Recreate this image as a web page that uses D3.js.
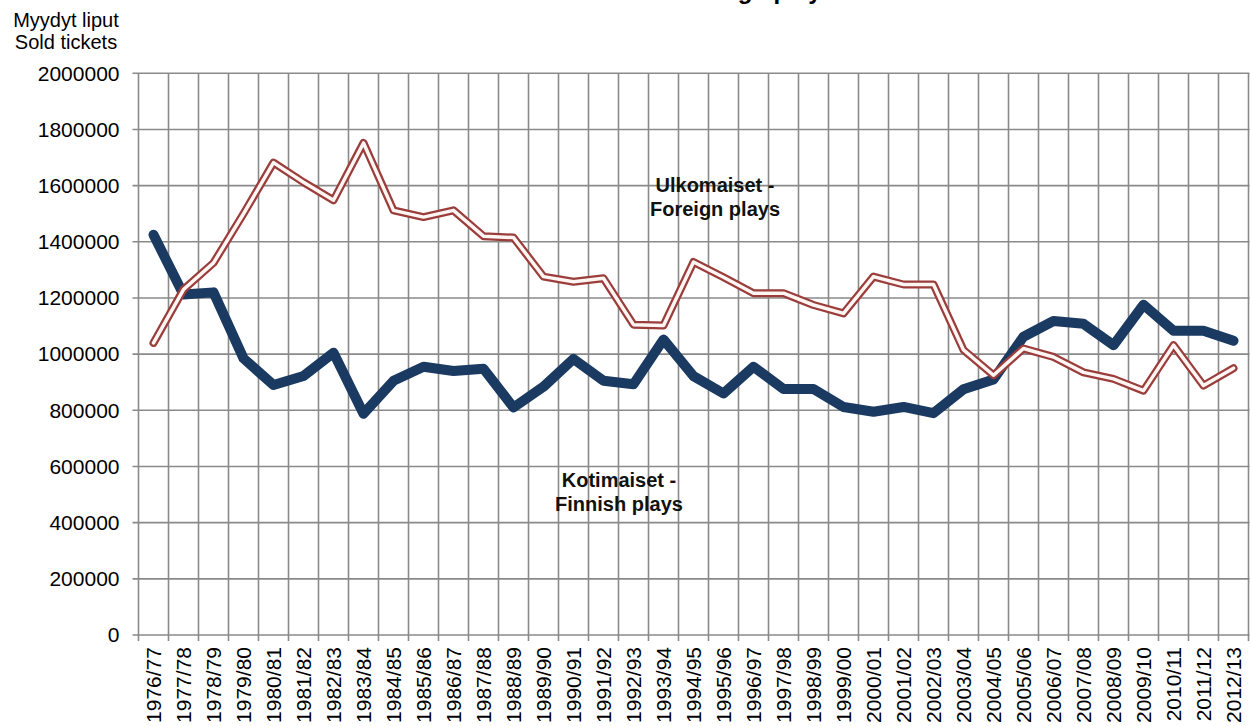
<!DOCTYPE html>
<head>
<meta charset="utf-8">
<style>
	body{
		margin: 0;
		background: white;
	}
	svg{
		display: block;
		font-family: "Liberation Sans", Arial, sans-serif;
	}
</style>
</head>
<body>
<script src="https://cdn.jsdelivr.net/npm/d3@7/dist/d3.min.js" charset="utf-8"></script>
<svg width="1250" height="726"></svg>
<script>
	var seasons = ["1976/77","1977/78","1978/79","1979/80","1980/81","1981/82","1982/83","1983/84","1984/85","1985/86",
		"1986/87","1987/88","1988/89","1989/90","1990/91","1991/92","1992/93","1993/94","1994/95","1995/96",
		"1996/97","1997/98","1998/99","1999/00","2000/01","2001/02","2002/03","2003/04","2004/05","2005/06",
		"2006/07","2007/08","2008/09","2009/10","2010/11","2011/12","2012/13"];
	// Kotimaiset - Finnish plays
	var finnish = [1425000,1212000,1220000,985000,890000,922000,1005000,788000,905000,955000,
		940000,948000,810000,884000,983000,905000,893000,1052000,922000,860000,
		955000,876000,876000,812000,795000,812000,790000,875000,910000,1062000,
		1118000,1108000,1032000,1176000,1083000,1083000,1048000];
	// Ulkomaiset - Foreign plays
	var foreign = [1040000,1230000,1325000,1500000,1682000,1612000,1548000,1752000,1512000,1488000,
		1512000,1420000,1415000,1276000,1258000,1270000,1105000,1102000,1328000,1274000,
		1217000,1217000,1175000,1145000,1276000,1248000,1248000,1015000,925000,1020000,
		990000,935000,912000,870000,1032000,888000,950000];
	var yTicks = d3.range(0, 2000001, 200000);

	var svg = d3.select("svg");
	var pLeft = 138.5, pRight = 1248.5, pTop = 73.3, pBottom = 635;

	var x = d3.scaleBand().domain(seasons).range([pLeft, pRight]);
	var y = d3.scaleLinear().domain([0, 2000000]).range([pBottom, pTop]);

	// title, mostly outside the picture
	svg.append("text")
		.attr("x", 835)
		.attr("y", -1)
		.attr("text-anchor", "end")
		.style("font-size", "24px")
		.style("font-weight", "bold")
		.text("Finnish and foreign plays");

	// axis title
	svg.append("text")
		.attr("x", 66).attr("y", 27)
		.attr("text-anchor", "middle")
		.style("font-size", "20px")
		.text("Myydyt liput");
	svg.append("text")
		.attr("x", 66).attr("y", 49)
		.attr("text-anchor", "middle")
		.style("font-size", "20px")
		.text("Sold tickets");

	// grid
	var grid = svg.append("g")
		.attr("stroke", "#8a8a8a")
		.attr("stroke-width", 1.6);
	grid.selectAll("line.h")
		.data(yTicks)
		.join("line")
		.attr("class", "h")
		.attr("x1", pLeft - 6).attr("x2", pRight + 1)
		.attr("y1", d => y(d)).attr("y2", d => y(d));
	var edges = seasons.map(s => x(s)).concat([x.range()[1]]);
	grid.selectAll("line.v")
		.data(edges)
		.join("line")
		.attr("class", "v")
		.attr("x1", d => d).attr("x2", d => d)
		.attr("y1", pTop).attr("y2", pBottom + 6);

	// y axis labels
	var yAxis = d3.axisLeft(y).tickValues(yTicks).tickSize(0).tickPadding(0).tickFormat(d3.format("d"));
	svg.append("g")
		.attr("transform", "translate(" + (pLeft - 19) + ",0)")
		.call(yAxis)
		.call(g => g.select(".domain").remove())
		.selectAll("text")
		.style("font-size", "21px")
		.style("font-family", "'Liberation Sans', Arial, sans-serif")
		.attr("fill", "#000");

	// x axis labels
	var xAxis = d3.axisBottom(x).tickSize(0).tickPadding(0);
	svg.append("g")
		.attr("transform", "translate(0," + (pBottom + 12) + ")")
		.call(xAxis)
		.call(g => g.select(".domain").remove())
		.selectAll("text")
		.style("font-size", "21px")
		.style("font-family", "'Liberation Sans', Arial, sans-serif")
		.attr("fill", "#000")
		.attr("text-anchor", "end")
		.attr("transform", "rotate(-90)")
		.attr("x", 0)
		.attr("y", 0)
		.attr("dy", "0.36em");

	var line = d3.line()
		.x((d, i) => x(seasons[i]) + x.bandwidth() / 2)
		.y(d => y(d));

	svg.append("path")
		.datum(finnish)
		.attr("d", line)
		.attr("fill", "none")
		.attr("stroke", "#1b3a62")
		.attr("stroke-width", 10)
		.attr("stroke-linejoin", "round")
		.attr("stroke-linecap", "round");

	svg.append("path")
		.datum(foreign)
		.attr("d", line)
		.attr("fill", "none")
		.attr("stroke", "#9a3d3b")
		.attr("stroke-width", 8)
		.attr("stroke-linejoin", "round")
		.attr("stroke-linecap", "round");
	svg.append("path")
		.datum(foreign)
		.attr("d", line)
		.attr("fill", "none")
		.attr("stroke", "#fff6f4")
		.attr("stroke-width", 3.5)
		.attr("stroke-linejoin", "round")
		.attr("stroke-linecap", "round");

	// series labels
	function label(cx, by, lines){
		var t = svg.append("text")
			.attr("text-anchor", "middle")
			.style("font-size", "20px")
			.style("font-weight", "bold")
			.attr("fill", "#111");
		lines.forEach(function(s, i){
			t.append("tspan").attr("x", cx).attr("y", by + i * 23.5).text(s);
		});
	}
	label(715, 192, ["Ulkomaiset -", "Foreign plays"]);
	label(619, 487, ["Kotimaiset -", "Finnish plays"]);
</script>
</body>
</html>
